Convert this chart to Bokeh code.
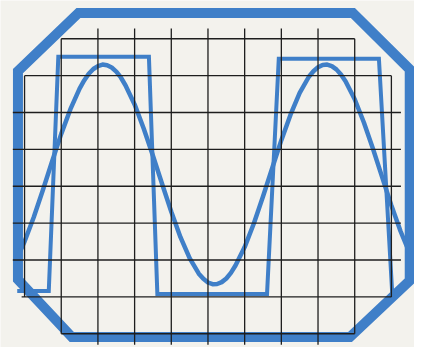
from bokeh.plotting import figure
from bokeh.models import Range1d
from bokeh.embed import file_html
from bokeh.resources import INLINE

# ---- data (graticule divisions) ----
# sine trace (x in divisions, y in divisions)
sine_x = [-0.25, 0.0, 0.25, 0.5, 0.75, 1.0, 1.25, 1.5, 1.625, 1.75, 1.875, 2.0, 2.125,
          2.25, 2.375, 2.5, 2.625, 2.75,
          3.0, 3.25, 3.5, 3.75, 4.0, 4.25, 4.5, 4.75, 4.875, 5.0, 5.125, 5.25, 5.375,
          5.5, 5.625, 5.75, 6.0,
          6.25, 6.5, 6.75, 7.0, 7.25, 7.5, 7.75, 7.875, 8.0, 8.125, 8.25, 8.375, 8.5,
          8.625, 8.75, 9.0, 9.25,
          9.5, 9.75, 10.0, 10.25, 10.5]
sine_y = [1.95, 2.50, 3.16, 3.90, 4.67, 5.42, 6.09, 6.65, 6.87, 7.05, 7.18, 7.26, 7.30,
          7.28, 7.22, 7.11, 6.95, 6.74,
          6.22, 5.56, 4.83, 4.06, 3.31, 2.62, 2.05, 1.63, 1.49, 1.39, 1.345, 1.35, 1.40,
          1.50, 1.65, 1.85, 2.35,
          2.99, 3.72, 4.49, 5.25, 5.94, 6.53, 6.97, 7.12, 7.23, 7.29, 7.30, 7.26, 7.17,
          7.03, 6.85, 6.36, 5.73,
          5.01, 4.24, 3.48, 2.78, 2.18]

# square trace corners
square_x = [-0.2, 0.66, 0.92, 3.39, 3.62, 6.61, 6.93, 9.66, 10.03]
square_y = [1.16, 1.16, 7.51, 7.51, 1.08, 1.08, 7.46, 7.46, 0.97]

# screen bezel outline
bezel_x = [1.47, 8.95, 10.50, 10.50, 8.87, 1.29, -0.18, -0.18]
bezel_y = [8.70, 8.70, 7.17, 1.44, -0.09, -0.09, 1.47, 7.12]

# graticule lines (start/end in divisions)
row_y = [8, 7, 6, 5, 4, 3, 2, 1, 0]
row_x0 = [1, 0, -0.32, -0.32, -0.32, -0.32, -0.32, -0.08, 1]
row_x1 = [9, 10, 10.26, 10.26, 10.26, 10.26, 10.26, 10.0, 9]
col_x = [0, 1, 2, 3, 4, 5, 6, 7, 8, 9, 10]
col_y0 = [1, 0, -0.3, -0.3, -0.3, -0.3, -0.3, -0.3, -0.3, 0, 1]
col_y1 = [7, 8, 8.28, 8.28, 8.28, 8.28, 8.28, 8.28, 8.28, 8, 7]

BLUE = "#3f7fc8"
BG = "#f3f2ed"

p = figure(width=414, height=347, output_backend="svg", toolbar_location=None,
           x_range=Range1d(-0.656, 10.630), y_range=Range1d(-0.373, 9.038),
           min_border=0)
p.axis.visible = False
p.grid.visible = False
p.outline_line_color = None
p.background_fill_color = BG
p.border_fill_color = BG

p.patch(bezel_x, bezel_y, fill_color=None, line_color=BLUE, line_width=10,
        line_join="miter")
p.line(square_x, square_y, line_color=BLUE, line_width=4, line_join="miter")
p.line(sine_x, sine_y, line_color=BLUE, line_width=4.5, line_join="round")

p.segment(x0=row_x0, y0=row_y, x1=row_x1, y1=row_y, line_color="#1e1e1e", line_width=1.3)
p.segment(x0=col_x, y0=col_y0, x1=col_x, y1=col_y1, line_color="#1e1e1e", line_width=1.3)

open("out.html", "w").write(file_html(p, INLINE))
